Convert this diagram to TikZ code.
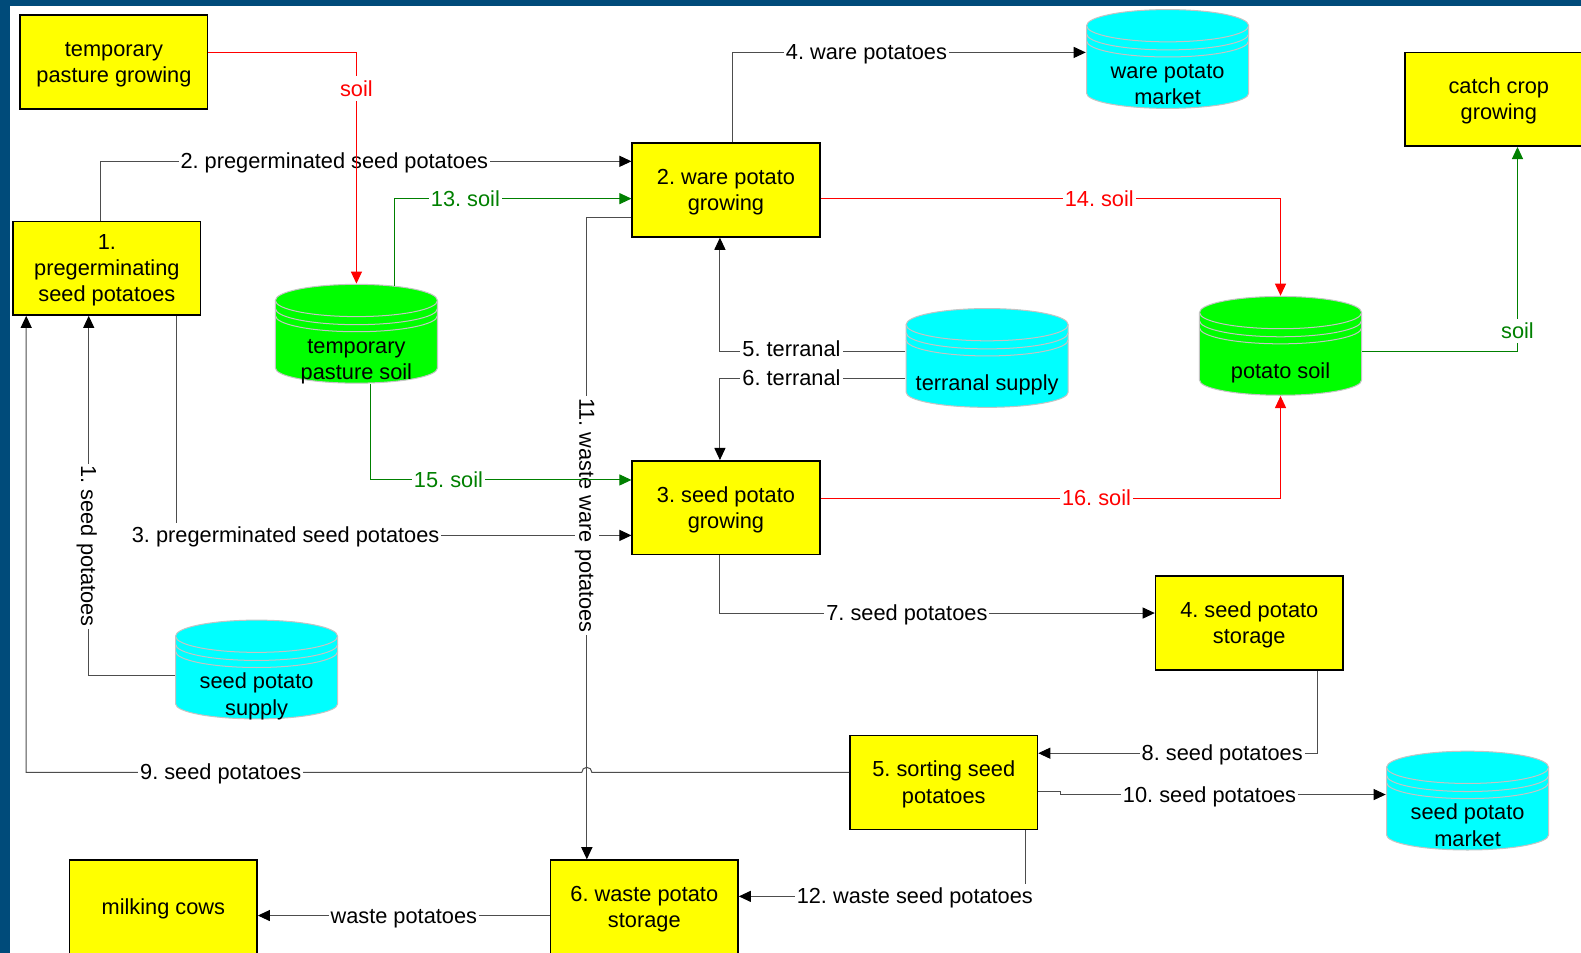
\documentclass[tikz,border=0pt]{standalone}
\usepackage{fontspec}
\setmainfont{Liberation Sans}
\usetikzlibrary{arrows.meta}
\frenchspacing

\definecolor{boxyellow}{HTML}{FFFF00}
\definecolor{storecyan}{HTML}{00FFFF}
\definecolor{soilgreen}{HTML}{00FF00}
\definecolor{flowred}{HTML}{FF0000}
\definecolor{flowgreen}{HTML}{008000}
\definecolor{linegray}{HTML}{4D4D4D}
\definecolor{rimgray}{HTML}{C4C4C4}
\definecolor{frameblue}{HTML}{004B7A}

\tikzset{
  % text boxes with full line height (1, 2 or 3 lines), as in the original drawing
  txt1/.style={text height=19.55pt, text depth=4.58pt},
  txt2/.style={text height=45.55pt, text depth=4.58pt},
  txt3/.style={text height=71.55pt, text depth=4.58pt},
  process/.style={draw=black, line width=1.5pt, fill=boxyellow, minimum width=186, minimum height=93, align=center, inner sep=0},
  store/.style={minimum width=162, minimum height=99, inner sep=0,
    path picture={
      \filldraw[fill=#1, draw=rimgray, line width=1pt]
        ([xshift=0.6, yshift=-16.5]path picture bounding box.north west)
        -- ([xshift=0.6, yshift=15.5]path picture bounding box.south west)
        arc[start angle=180, end angle=360, x radius=80.4pt, y radius=15pt]
        -- ([xshift=-0.6, yshift=-16.5]path picture bounding box.north east)
        arc[start angle=0, end angle=180, x radius=80.4pt, y radius=16pt]
        -- cycle;
      \foreach \rim in {16.5,24.5,31.5}
        \draw[rimgray, line width=1pt] ([xshift=0.6, yshift=-\rim]path picture bounding box.north west)
          arc[start angle=180, end angle=360, x radius=80.4pt, y radius=16pt];
    }},
  flow/.style={draw=linegray, line width=1pt, -{Triangle[length=12pt, width=11pt, color=black]}},
  redflow/.style={color=flowred, line width=1pt, -{Triangle[length=12pt, width=11pt]}},
  greenflow/.style={color=flowgreen, line width=1pt, -{Triangle[length=12pt, width=11pt]}},
  lbl/.style={txt1, fill=white, inner xsep=2pt, inner ysep=0pt},
}

\begin{document}
\begin{tikzpicture}[x=1pt, y=-1pt, font=\fontsize{21.6}{26}\selectfont]
    % Page and frame
    \useasboundingbox (0,0) rectangle (1568,945);
    \fill[white] (0,0) rectangle (1568,945);
    \fill[frameblue] (0,0) rectangle (1568,5.5);
    \fill[frameblue] (0,0) rectangle (9.5,945);

    % Process boxes
    \node[process, txt2] (tpg) at (113,61.5) {temporary\\pasture growing};
    \node[process, txt3] (b1) at (106,266) {1.\\pregerminating\\seed potatoes};
    \node[process, txt2] (b2) at (720,188.5) {2. ware potato\\growing};
    \node[process, txt2] (b3) at (720,503.5) {3. seed potato\\growing};
    \node[process, txt2] (b4) at (1239,618) {4. seed potato\\storage};
    \node[process, txt2] (b5) at (936,776) {5. sorting seed\\potatoes};
    \node[process, txt2] (b6) at (639,899.5) {6. waste potato\\storage};
    \node[process, txt1] (mc) at (162,899.5) {milking cows};
    \node[process, txt2] (cc) at (1486.5,98.5) {catch crop\\growing};

    % Stores (cylinders), text sits in the lower part
    \node[store=storecyan] (wpm) at (1158,58.5) {};
    \node[store=soilgreen] (tps) at (353.5,331) {};
    \node[store=storecyan] (ts) at (979,355) {};
    \node[store=soilgreen] (ps) at (1270,343) {};
    \node[store=storecyan] (sps) at (254.5,664) {};
    \node[store=storecyan] (spm) at (1455.5,794) {};

    \node[align=center, txt2] (wpm-t) at ([yshift=25]wpm.south) {ware potato\\market};
    \node[align=center, txt2] (tps-t) at ([yshift=25]tps.south) {temporary\\pasture soil};
    \node[txt1] (ts-t) at ([yshift=25]ts.south) {terranal supply};
    \node[txt1] (ps-t) at ([yshift=25]ps.south) {potato soil};
    \node[align=center, txt2] (sps-t) at ([yshift=25]sps.south) {seed potato\\supply};
    \node[align=center, txt2] (spm-t) at ([yshift=25]spm.south) {seed potato\\market};

    % --- Potato flows ---
    \draw[flow] (b1.north -| 100,0) |- node[lbl, pos=0.72] {2. pregerminated seed potatoes} (b2.west |- 0,160);
    \draw[flow] (b1.south -| 175,0) |- node[lbl, pos=0.62] {3. pregerminated seed potatoes} (b3.west |- 0,531);
    \draw[flow] (b2.north -| 726,0) |- node[lbl, pos=0.69] {4. ware potatoes} (wpm.west |- 0,52);
    \draw[flow] (ts.west |- 0,349) -| node[lbl, pos=0.307, yshift=3] {5. terranal} (b2.south -| 714,0);
    \draw[flow] (ts.west |- 0,375) -| node[lbl, pos=0.307] {6. terranal} (b3.north -| 714,0);
    \draw[flow] (b3.south -| 714,0) |- node[lbl, pos=0.715] {7. seed potatoes} (b4.west |- 0,608);
    \draw[flow] (b4.south -| 1307,0) |- node[lbl, pos=0.671] {8. seed potatoes} (b5.east |- 0,747);
    \draw[flow] (b5.east |- 0,785) -- (1052,785) -- (1052,788) -- node[lbl, pos=0.458] {10. seed potatoes} (spm.west |- 0,788);
    \draw[flow] (b5.south -| 1017,0) |- node[lbl, pos=0.693] {12. waste seed potatoes} (b6.east |- 0,889);
    \draw[flow] (b6.west |- 0,908) -- node[lbl] {waste potatoes} (mc.east |- 0,908);
    \draw[flow] (sps.west |- 0,670) -| node[lbl, rotate=-90, pos=0.68] {1. seed potatoes} (b1.south -| 88,0);
    \draw[flow] (b2.west |- 0,216) -| node[lbl, rotate=-90, pos=0.732] {11. waste ware potatoes} (b6.north -| 582,0);

    % 9 hops over the line of 11
    \draw[flow] (b5.west |- 0,766) -- (587,766) arc[start angle=0, end angle=180, radius=5pt]
        -- node[lbl, pos=0.65] {9. seed potatoes} (26,766) -- (b1.south -| 26,0);

    % --- Soil flows ---
    \draw[redflow] (tpg.east |- 0,52) -| node[lbl, pos=0.578] {soil} (tps.north);
    \draw[greenflow] ([xshift=37.5, yshift=-2]tps.north) |- node[lbl, pos=0.65] {13. soil} (b2.west |- 0,197);
    \draw[redflow] (b2.east |- 0,197) -| node[lbl, pos=0.303] {14. soil} (ps.north);
    \draw[greenflow] (tps.south -| 367,0) |- node[lbl, pos=0.65] {15. soil} (b3.west |- 0,476);
    \draw[redflow] (b3.east |- 0,494) -| node[lbl, pos=0.3] {16. soil} (ps.south);
    \draw[greenflow] (ps.east |- 0,349) -| node[lbl, pos=0.551] {soil} (cc.south -| 1505,0);
\end{tikzpicture}
\end{document}
